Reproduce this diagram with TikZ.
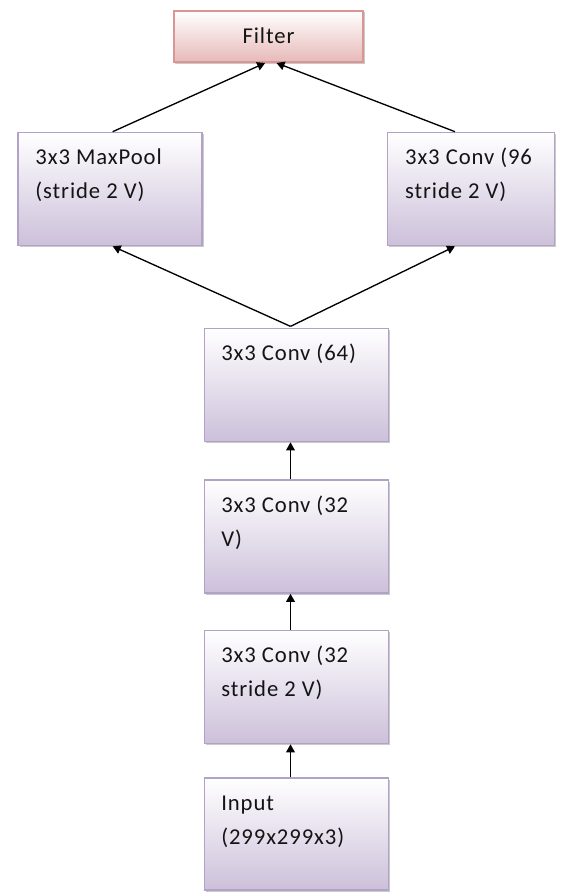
\documentclass[tikz,border=0pt]{standalone}
\usepackage{fontspec}
\setmainfont[LetterSpace=4]{Carlito}
\usetikzlibrary{shadows,arrows.meta}
\definecolor{lavbot}{HTML}{CCC0DA}
\definecolor{lavline}{HTML}{B3A2C7}
\definecolor{pinkbot}{HTML}{E6B9B8}
\definecolor{pinkline}{HTML}{D99694}
\definecolor{txt}{HTML}{141414}
\tikzset{
  blk/.style={rectangle, draw=lavline, line width=1.2pt, top color=white, bottom color=lavbot,
    drop shadow={shadow xshift=1.2pt, shadow yshift=-1.2pt, opacity=0.35, fill=black!60},
    inner sep=0pt, minimum width=138pt, minimum height=84.75pt},
  filt/.style={rectangle, draw=pinkline, line width=1.2pt, top color=white, bottom color=pinkbot,
    drop shadow={shadow xshift=1.2pt, shadow yshift=-1.2pt, opacity=0.35, fill=black!60},
    inner sep=0pt, minimum width=142pt, minimum height=38.5pt, text=txt,
    font=\fontsize{17pt}{19pt}\selectfont},
  lbl/.style={anchor=base west, align=left, inner sep=0pt, text=txt,
    font=\fontsize{17pt}{25.5pt}\selectfont},
  arr/.style={-{Triangle[length=6pt,width=6.5pt]}, line width=1pt, black}
}
\begin{document}
\begin{tikzpicture}[x=0.75pt,y=-0.75pt]
\useasboundingbox (0,0) rectangle (563,892);
\node[filt] (filter) at (268.5,36.5) {\raisebox{2pt}{Filter}};
\node[blk] (maxpool) at (110,189) {};
\node[blk, minimum width=125pt] (conv96) at (471,189) {};
\node[blk] (conv64) at (296.5,385) {};
\node[blk] (conv32v) at (296.5,536.5) {};
\node[blk] (conv32s) at (296.5,687) {};
\node[blk, minimum height=84pt] (input) at (296.5,834) {};
\node[lbl] (tmax) at ([xshift=13.5pt,yshift=-50.25pt]maxpool.north west) {3x3 MaxPool\\(stride 2 V)};
\node[lbl] (t96) at ([xshift=13.5pt,yshift=-50.25pt]conv96.north west) {3x3 Conv (96\\stride 2 V)};
\node[lbl] (t64) at ([xshift=13pt,yshift=-24.75pt]conv64.north west) {3x3 Conv (64)};
\node[lbl] (t32v) at ([xshift=13pt,yshift=-50.25pt]conv32v.north west) {3x3 Conv (32\\V)};
\node[lbl] (t32s) at ([xshift=13pt,yshift=-50.25pt]conv32s.north west) {3x3 Conv (32\\stride 2 V)};
\node[lbl] (tin) at ([xshift=13pt,yshift=-50.25pt]input.north west) {Input\\(299x299x3)};
\coordinate (apex) at ([xshift=-4.5pt,yshift=1pt]conv64.north);
\draw[arr] (input.north -| apex) -- (conv32s.south -| apex);
\draw[arr] (conv32s.north -| apex) -- (conv32v.south -| apex);
\draw[arr] (conv32v.north -| apex) -- (conv64.south -| apex);
\draw[arr] (apex) -- ([xshift=2pt]maxpool.south);
\draw[arr] (apex) -- ([xshift=-12pt]conv96.south);
\draw[arr] ([xshift=2pt]maxpool.north) -- ([xshift=-2.5pt]filter.south);
\draw[arr] ([xshift=-12pt]conv96.north) -- ([xshift=6pt]filter.south);
\end{tikzpicture}
\end{document}
